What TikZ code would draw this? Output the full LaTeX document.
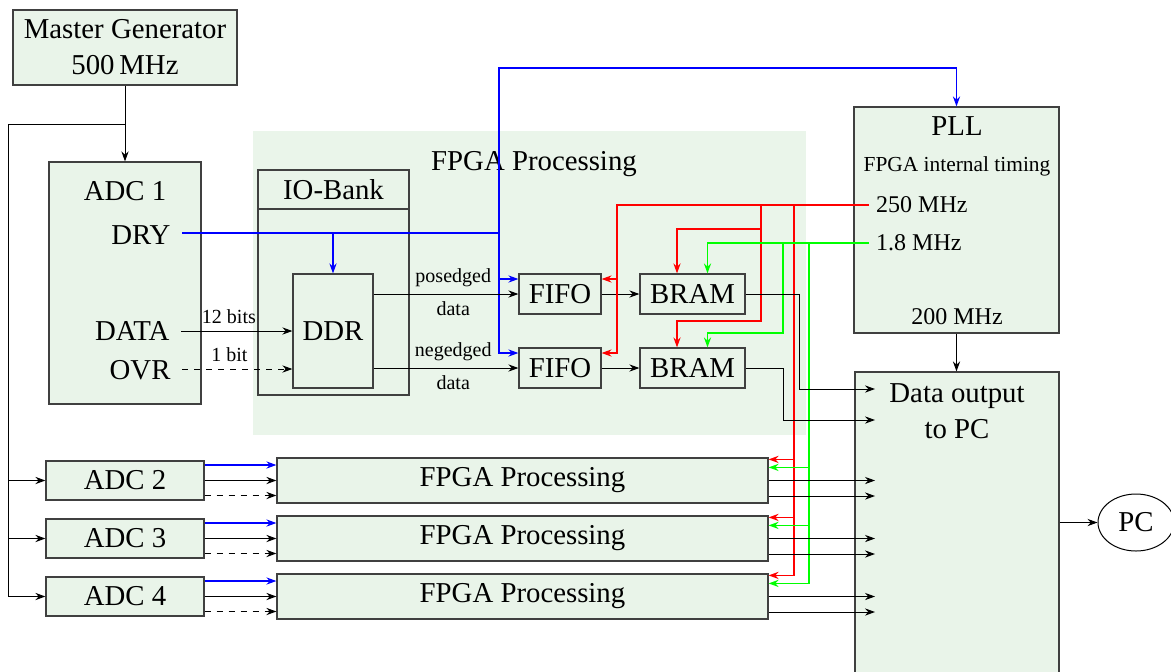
\documentclass[tikz,border=0pt]{standalone}
\usepackage{fontspec}
\setmainfont{Liberation Serif}
\usepackage{tikz}
\usetikzlibrary{arrows.meta,positioning,calc,shapes.geometric}
\definecolor{vertpale}{RGB}{233,244,233}
\definecolor{fondfpga}{RGB}{234,245,234}

\tikzset{
  bloc/.style={draw=black!75, line width=0.6pt, fill=vertpale, inner sep=0pt},
  fleche/.style={-{Stealth[length=5pt,width=3.6pt]}},
  port/.style={anchor=east, inner xsep=5.5pt, inner ysep=0pt},
  etiq/.style={font=\normalsize},
  dryfil/.style={blue, line width=0.65pt},
  rougefil/.style={red, line width=0.65pt},
  vertfil/.style={green, line width=0.65pt},
}

\begin{document}
\begin{tikzpicture}[x=0.5pt, y=-0.5pt, font=\Large, line width=0.5pt]
  \useasboundingbox (0,0) rectangle (1171,671);

  % Zone FPGA
  \node[fill=fondfpga, minimum width=276.5pt, minimum height=152pt] (fpga) at (529.5,283) {};
  \node[inner sep=0pt] (fpgatitre) at (534,164) {FPGA Processing};

  % Blocs
  \node[bloc, minimum width=112pt, minimum height=37.5pt, align=center] (mastergen) at (125,47.5) {Master Generator\\500\,MHz};
  \node[bloc, minimum width=76pt, minimum height=121pt] (adc1) at (125,283) {};
  \node[inner sep=0pt] (adc1titre) at (125,191) {ADC 1};
  \node[port] (dry) at (182,235) {DRY};
  \node[port] (data) at (181,331) {DATA};
  \node[port] (ovr) at (182,370) {OVR};
  \node[bloc, minimum width=75.5pt, minimum height=19.5pt] (iobank) at (333.5,189.5) {IO-Bank};
  \node[bloc, minimum width=75.5pt, minimum height=93pt] (iocorps) at (333.5,302) {};
  \node[bloc, minimum width=40pt, minimum height=57pt] (ddr) at (333,331) {DDR};
  \node[bloc, minimum width=41pt, minimum height=20pt] (fifo1) at (560,294) {FIFO};
  \node[bloc, minimum width=41pt, minimum height=20pt] (fifo2) at (560,368) {FIFO};
  \node[bloc, minimum width=52.5pt, minimum height=20pt] (bram1) at (692.5,294) {BRAM};
  \node[bloc, minimum width=52.5pt, minimum height=20pt] (bram2) at (692.5,368) {BRAM};

  % PLL
  \node[bloc, minimum width=102.5pt, minimum height=113pt] (pll) at (956.5,220) {};
  \node[inner sep=0pt] (plltitre) at (957,126) {PLL};
  \node[inner sep=0pt, font=\fontsize{10.7}{13}\selectfont] (plltiming) at (957,166) {FPGA internal timing};
  \node[anchor=west, font=\large] (f250) at (869,205) {250 MHz};
  \node[anchor=west, font=\large] (f18) at (869,243) {1.8 MHz};
  \node[inner sep=0pt, font=\large] (f200) at (957,317) {200 MHz};

  \node[bloc, minimum width=102pt, minimum height=164pt] (dataout) at (957,536) {};
  \node[inner sep=0pt, align=center] (dataouttxt) at (957,411) {Data output\\to PC};
  \node[draw, ellipse, minimum width=38pt, minimum height=28.5pt, inner sep=0pt] (pc) at (1136,522.5) {PC};

  \foreach \i/\y in {2/480.5,3/538.5,4/596.5}{
    \node[bloc, minimum width=79pt, minimum height=19.5pt] (adc\i) at (125,\y) {ADC \i};
    \node[bloc, minimum width=245.5pt, minimum height=22.5pt] (proc\i) at (522.5,\y) {FPGA Processing};
  }

  % Horloge maitre
  \coordinate (split) at (125,124);
  \coordinate (bus) at (8,124);
  \draw[fleche] (mastergen) -- (adc1);
  \draw (split) -- (bus) -- (bus |- adc4);
  \foreach \i in {2,3,4} \draw[fleche] (bus |- adc\i) -- (adc\i);

  % DRY
  \coordinate (drysplit) at (499,233);
  \coordinate (haut) at (499,68);
  \draw[dryfil] (dry.east |- drysplit) -- (drysplit);
  \draw[dryfil, fleche] (drysplit -| ddr.north) -- (ddr.north);
  \draw[dryfil, fleche] (drysplit) -- (haut) -| (pll.north);
  \draw[dryfil, fleche] (drysplit) |- ([yshift=7.5pt]fifo1.west);
  \draw[dryfil, fleche] (drysplit) |- ([yshift=7.5pt]fifo2.west);

  % Donnees ADC 1
  \draw[fleche] (data.east) -- (data.east -| ddr.west) node[etiq, pos=0.43, above] (l12) {12 bits};
  \draw[fleche, dashed] (ovr.east |- 0,369) -- (ddr.west |- 0,369) node[etiq, pos=0.43, above] (l1) {1 bit};
  \draw[fleche] (ddr.east |- fifo1) -- (fifo1) node[etiq, pos=0.55, above] (lpos) {posedged} node[etiq, pos=0.55, below] (lposd) {data};
  \draw[fleche] (ddr.east |- fifo2) -- (fifo2) node[etiq, pos=0.55, above] (lneg) {negedged} node[etiq, pos=0.55, below] (lnegd) {data};
  \draw[fleche] (fifo1) -- (bram1);
  \draw[fleche] (fifo2) -- (bram2);

  % Horloge 250 MHz
  \coordinate (r1) at (617,205);
  \coordinate (r2) at (761,205);
  \coordinate (r2a) at (761,229);
  \coordinate (r2b) at (761,321);
  \coordinate (r3) at (794,205);
  \draw[rougefil, fleche] (f250.west) -- (r1) |- ([yshift=7.5pt]fifo2.east);
  \draw[rougefil, fleche] (r1) |- ([yshift=7.5pt]fifo1.east);
  \draw[rougefil, fleche] (r2) -- (r2b) -| ([xshift=-7.75pt]bram2.north);
  \draw[rougefil, fleche] (r2a) -| ([xshift=-7.75pt]bram1.north);
  \foreach \i in {2,3,4} \draw[rougefil, fleche] (r3) |- ([yshift=-1pt]proc\i.north east);

  % Horloge 1.8 MHz
  \coordinate (g2) at (783,243);
  \coordinate (g2b) at (783,333);
  \coordinate (g3) at (809,243);
  \draw[vertfil, fleche] (f18.west) -| ([xshift=7.5pt]bram1.north);
  \draw[vertfil, fleche] (g2) -- (g2b) -| ([xshift=7.5pt]bram2.north);
  \foreach \i in {2,3,4} \draw[vertfil, fleche] (g3) |- ([yshift=-5pt]proc\i.north east);

  % Sorties
  \coordinate (in1) at (875,389);
  \coordinate (in2) at (875,420);
  \coordinate (k1) at (799,389);
  \coordinate (k2) at (783,420);
  \draw[fleche] (bram1.east) -| (k1) -- (in1);
  \draw[fleche] (bram2.east) -| (k2) -- (in2);
  \foreach \i in {2,3,4}{
    \draw[dryfil, fleche] ([yshift=7.75pt]adc\i.east) -- ([yshift=7.75pt]adc\i.east -| proc\i.west);
    \draw[fleche] (adc\i.east) -- (adc\i.east -| proc\i.west);
    \draw[fleche, dashed] ([yshift=-7.5pt]adc\i.east) -- ([yshift=-7.5pt]adc\i.east -| proc\i.west);
    \draw[fleche] (proc\i.east) -- (proc\i.east -| in1);
    \draw[fleche] ([yshift=-7.75pt]proc\i.east) -- ([yshift=-7.75pt]proc\i.east -| in1);
  }
  \draw[fleche] (pll.south) -- (pll.south |- dataout.north);
  \draw[fleche] (dataout.east |- pc) -- (pc);
\end{tikzpicture}
\end{document}
